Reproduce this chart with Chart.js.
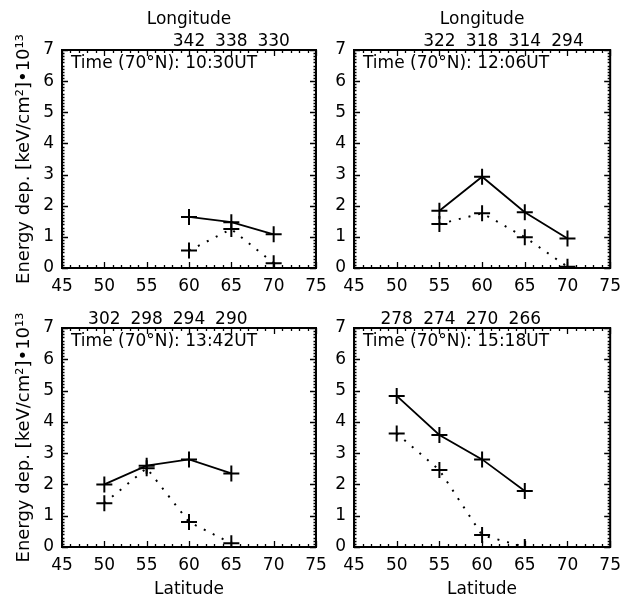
<!DOCTYPE html>
<html><head><meta charset="utf-8">
<script src="https://cdn.jsdelivr.net/npm/chart.js@4/dist/chart.umd.min.js"></script>
<style>
html,body{margin:0;padding:0;background:#fff;width:629px;height:602px;overflow:hidden}
canvas{position:absolute;left:0;top:0}
</style></head>
<body>
<canvas id="c1" width="629" height="602"></canvas>
<canvas id="c2" width="629" height="602"></canvas>
<canvas id="c3" width="629" height="602"></canvas>
<canvas id="c4" width="629" height="602"></canvas>
<script>
// ---- data ----
const latRange = [45, 75];
const energyRange = [0, 7];

const lat1 = [60, 65, 70];
const lon1 = ['342', '338', '330'];
const solid1 = [1.64, 1.47, 1.08];
const dotted1 = [0.56, 1.25, 0.15];
const time1 = 'Time (70°N): 10:30UT';

const lat2 = [55, 60, 65, 70];
const lon2 = ['322', '318', '314', '294'];
const solid2 = [1.84, 2.93, 1.79, 0.95];
const dotted2 = [1.41, 1.76, 0.99, 0.04];
const time2 = 'Time (70°N): 12:06UT';

const lat3 = [50, 55, 60, 65];
const lon3 = ['302', '298', '294', '290'];
const solid3 = [2.0, 2.6, 2.8, 2.35];
const dotted3 = [1.4, 2.52, 0.8, 0.12];
const time3 = 'Time (70°N): 13:42UT';

const lat4 = [50, 55, 60, 65];
const lon4 = ['278', '274', '270', '266'];
const solid4 = [4.83, 3.58, 2.8, 1.79];
const dotted4 = [3.63, 2.46, 0.38, 0.0];
const time4 = 'Time (70°N): 15:18UT';

const yTitle = 'Energy dep. [keV/cm²]•10¹³';
const topTitle = 'Longitude';
const bottomTitle = 'Latitude';

// ---- layout ----
const W = 629, H = 602;
const FONT = '"DejaVu Sans", sans-serif';
Chart.defaults.font.family = FONT;
Chart.defaults.font.size = 17;
Chart.defaults.color = '#000';

const framePlugin = {
  id: 'frame',
  afterDraw(chart, args, opts) {
    const {ctx, chartArea: a, scales} = chart;
    const x = scales.x, y = scales.y;
    ctx.save();
    ctx.strokeStyle = '#000';
    ctx.lineWidth = 1.3;
    ctx.beginPath();
    for (let v = x.min; v <= x.max; v++) {
      const px = Math.round(x.getPixelForValue(v)) + 0.5;
      const len = v % 5 === 0 ? 6 : 3;
      ctx.moveTo(px, a.bottom); ctx.lineTo(px, a.bottom - len);
      ctx.moveTo(px, a.top); ctx.lineTo(px, a.top + len);
    }
    for (let i = y.min * 10; i <= y.max * 10; i++) {
      const py = Math.round(y.getPixelForValue(i / 10)) + 0.5;
      const len = i % 10 === 0 ? 6 : 2.5;
      ctx.moveTo(a.left, py); ctx.lineTo(a.left + len, py);
      ctx.moveTo(a.right, py); ctx.lineTo(a.right - len, py);
    }
    ctx.stroke();
    ctx.lineWidth = 2;
    ctx.strokeRect(a.left, a.top, a.right - a.left, a.bottom - a.top);
    ctx.fillStyle = '#000';
    ctx.font = '17px ' + FONT;
    ctx.textBaseline = 'middle';
    ctx.textAlign = 'left';
    ctx.fillText(opts.label, a.left + 9, a.top + 14);
    ctx.restore();
  }
};

function makeChart(id, box, lats, lons, solid, dotted, label, showY, showTop, showBottom) {
  const toPts = vals => lats.map((la, i) => ({x: la, y: vals[i]}));
  const common = {
    borderColor: '#000', pointBorderColor: '#000', pointBackgroundColor: '#000',
    pointStyle: 'cross', pointRadius: 8, pointBorderWidth: 2, fill: false,
    tension: 0, clip: 0
  };
  return new Chart(document.getElementById(id), {
    type: 'line',
    data: {
      datasets: [
        Object.assign({data: toPts(solid), borderWidth: 1.8}, common),
        Object.assign({data: toPts(dotted), borderWidth: 2, borderDash: [2, 8]}, common)
      ]
    },
    options: {
      responsive: false, animation: false, events: [],
      layout: {padding: {left: 0, top: 0, right: W - box.R, bottom: 0}},
      plugins: {legend: {display: false}, tooltip: {enabled: false}, frame: {label}},
      scales: {
        x: {
          type: 'linear', position: 'bottom', min: latRange[0], max: latRange[1],
          grid: {display: false, drawTicks: false}, border: {display: false},
          ticks: {stepSize: 5, padding: 8, maxRotation: 0, autoSkip: false},
          title: {display: showBottom, text: bottomTitle, padding: {top: 0, bottom: 2}},
          afterFit: s => { s.height = H - box.B; }
        },
        x2: {
          type: 'linear', position: 'top', min: latRange[0], max: latRange[1],
          grid: {display: false, drawTicks: false}, border: {display: false},
          afterBuildTicks: s => { s.ticks = lats.map(v => ({value: v})); },
          ticks: {padding: -2, maxRotation: 0, autoSkip: false,
                  callback: (v, i) => lons[i]},
          title: {display: showTop, text: topTitle, padding: {top: 9, bottom: 0}},
          afterFit: s => { s.height = box.T; }
        },
        y: {
          type: 'linear', position: 'left', min: energyRange[0], max: energyRange[1],
          grid: {display: false, drawTicks: false}, border: {display: false},
          ticks: {stepSize: 1, padding: 8},
          title: {display: showY, text: yTitle, font: {size: 18}, padding: {top: 14, bottom: 0}},
          afterFit: s => { s.width = box.L; }
        }
      }
    },
    plugins: [framePlugin]
  });
}

makeChart('c1', {L: 62, T: 50, R: 316, B: 268}, lat1, lon1, solid1, dotted1, time1, true, true, false);
makeChart('c2', {L: 354, T: 50, R: 616, B: 268}, lat2, lon2, solid2, dotted2, time2, false, true, false);
makeChart('c3', {L: 62, T: 328, R: 316, B: 547}, lat3, lon3, solid3, dotted3, time3, true, false, true);
makeChart('c4', {L: 354, T: 328, R: 616, B: 547}, lat4, lon4, solid4, dotted4, time4, false, false, true);
</script>
</body></html>
